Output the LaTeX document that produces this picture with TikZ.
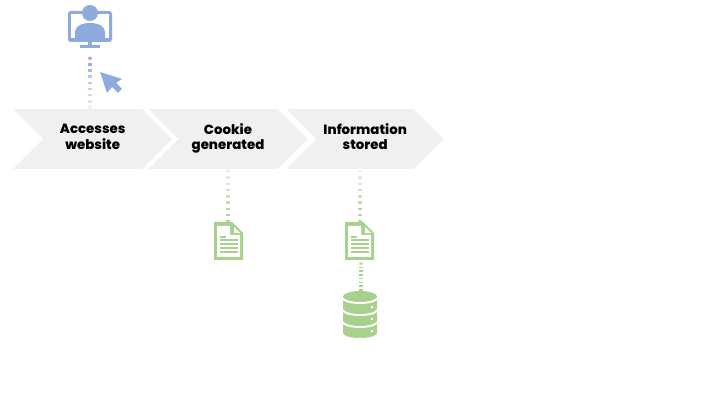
\documentclass[tikz,border=0pt]{standalone}
\usepackage{fontspec}
\setmainfont[BoldFont={Poppins ExtraBold}]{Poppins}
\usetikzlibrary{shapes.symbols, calc}

\definecolor{mygreen}{RGB}{169, 209, 142}
\definecolor{myblue}{RGB}{143, 170, 220}
\definecolor{mygray}{RGB}{240, 240, 240}

\tikzset{
    stepbox/.style={signal, signal to=east, signal from=west, fill=mygray, inner sep=0pt,
        minimum width=3.18cm, minimum height=1.2cm, align=center,
        execute at begin node=\strut, execute at end node=\strut,
        font=\fontsize{7.6pt}{9pt}\selectfont\bfseries},
    dotline/.style={line width=1.9pt}
}

% dotted connector that fades: from, to, colour, % at start, % at end
\newcommand{\fadedots}[5]{
    \foreach \k in {0,...,8} {
        \pgfmathtruncatemacro{\pct}{#4 + (#5 - #4)*\k/8}
        \draw[dotline, draw=#3!\pct!mygray] ($(#1)!\k/8.3!(#2)$) -- ($(#1)!\k/8.3 + 0.05!(#2)$);
    }
}

% sheet of paper, x/y = centre
\newcommand{\docicon}[3]{
    \begin{scope}[shift={(#2, #3)}]
        \fill[mygreen] (-15, -19) -- (3, -19) -- (14, -8) -- (14, 19) -- (-15, 19) -- cycle;
        \fill[white] (-12, -15) -- (1, -15) -- (1, -6) -- (11, -6) -- (11, 16) -- (-12, 16) -- cycle;
        \fill[white] (5, -14) -- (11, -8) -- (5, -8) -- cycle;
        \fill[mygreen] (-9, -5) rectangle (-3, -3);
        \foreach \h in {-2, 2, 6, 10} {
            \fill[mygreen] (-9, \h) rectangle (9, \h + 2);
        }
        \node[inner sep=0pt, minimum width=0.58cm, minimum height=0.76cm] (#1) at (0, 0) {};
    \end{scope}
}

\begin{document}
\begin{tikzpicture}[x=0.02cm, y=-0.02cm]
    \useasboundingbox[fill=white] (0, 0) rectangle (720, 405);

    % Chevrons
    \node[stepbox] (access) at (92.7, 139) {Accesses\\website};
    \node[stepbox] (cookie) at (228, 139) {Cookie\\generated};
    \node[stepbox, minimum width=3.14cm] (info) at (365.2, 139) {Information\\stored};

    % Monitor with user
    \fill[myblue, rounded corners=1.5] (68, 11) rectangle (112, 42);
    \fill[white] (71, 14) rectangle (109, 38);
    \fill[myblue] (88, 42) rectangle (92, 45);
    \fill[myblue] (80, 45) rectangle (100, 48);
    \fill[myblue] (75, 38) -- (75, 32) .. controls (75, 26) and (82, 23) .. (90, 23)
        .. controls (98, 23) and (105, 26) .. (105, 32) -- (105, 38) -- cycle;
    \fill[myblue] (90, 13) circle (8);
    \coordinate (screen) at (90, 57);
    \coordinate (accessTop) at (90, 108);

    % Cursor
    \fill[myblue] (100, 72) -- (122, 79) -- (116, 83) -- (122, 89) -- (118, 93)
        -- (112, 87) -- (107, 93) -- cycle;

    % Documents
    \docicon{docCookie}{229}{241}
    \docicon{docInfo}{360}{241}

    % Database
    \fill[mygreen] (343, 297) -- (343, 333) arc[start angle=180, end angle=0, x radius=17, y radius=5]
        -- (377, 297) -- cycle;
    \fill[mygreen] (360, 296.5) ellipse (17 and 5.5);
    \node[inner sep=0pt, minimum width=0.68cm, minimum height=0.94cm] (db) at (360, 314.5) {};
    \foreach \y in {298, 310, 322} {
        \draw[white, line width=1.1pt] (343, \y) arc[start angle=180, end angle=0, x radius=17, y radius=5];
    }
    \foreach \y in {307, 319, 331} {
        \fill[white] (372, \y) circle (1.3);
    }

    % Connectors
    \coordinate (cookieDots) at (228, 170);
    \coordinate (docCookieDots) at (228, 222);
    \coordinate (infoDots) at (360, 170);
    \coordinate (docInfoDots) at (360, 222);
    \coordinate (docInfoLow) at (361, 263);
    \coordinate (dbDots) at (361, 294);
    \fadedots{screen}{accessTop}{myblue}{100}{5}
    \fadedots{cookieDots}{docCookieDots}{mygreen}{5}{100}
    \fadedots{infoDots}{docInfoDots}{mygreen}{5}{100}
    \fadedots{docInfoLow}{dbDots}{mygreen}{100}{100}
\end{tikzpicture}
\end{document}
